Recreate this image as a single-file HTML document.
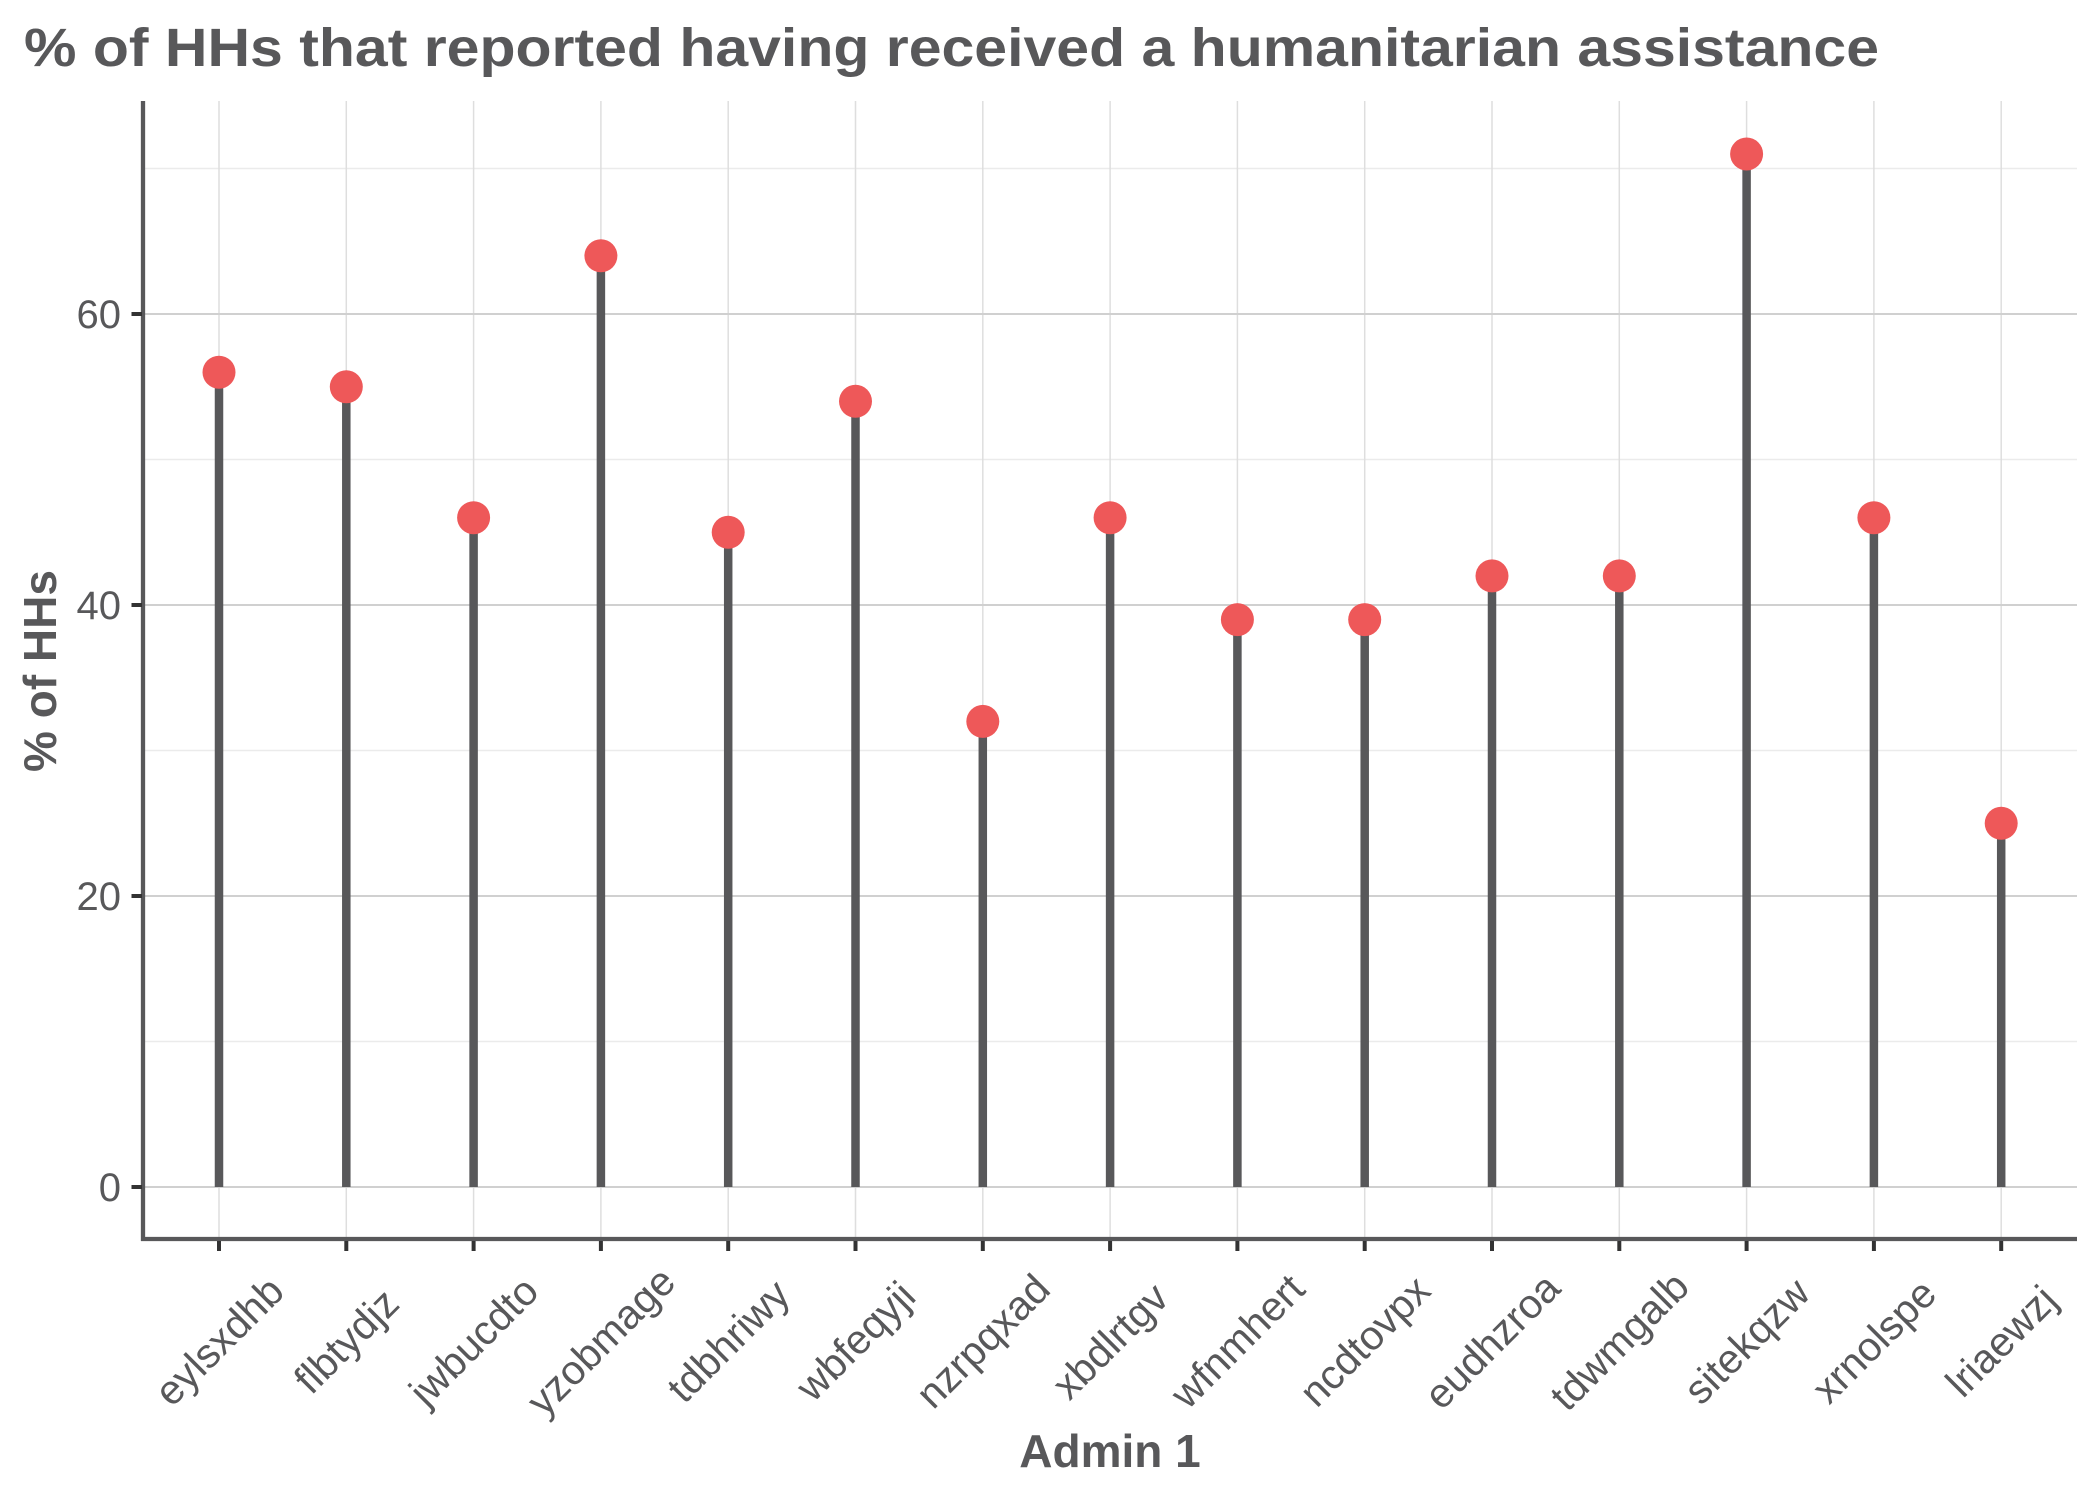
<!DOCTYPE html>
<html>
<head>
<meta charset="utf-8">
<style>
html,body{margin:0;padding:0;background:#fff;}
svg{display:block;}
text{font-family:"Liberation Sans",sans-serif;}
</style>
</head>
<body>
<svg width="2100" height="1500" viewBox="0 0 2100 1500" xmlns="http://www.w3.org/2000/svg">
<rect width="2100" height="1500" fill="#fff"/>
<!-- title -->
<text x="24" y="66" font-size="54" font-weight="bold" fill="#58585A" textLength="1855" lengthAdjust="spacingAndGlyphs">% of HHs that reported having received a humanitarian assistance</text>

<!-- minor gridlines -->
<g stroke="#ebebeb" stroke-width="1.5">
<line x1="143" x2="2077" y1="1041.5" y2="1041.5"/>
<line x1="143" x2="2077" y1="750.5" y2="750.5"/>
<line x1="143" x2="2077" y1="459.5" y2="459.5"/>
<line x1="143" x2="2077" y1="168.5" y2="168.5"/>
</g>
<!-- vertical gridlines -->
<g stroke="#dedede" stroke-width="1.5">
<line x1="219" x2="219" y1="101" y2="1239"/>
<line x1="346.3" x2="346.3" y1="101" y2="1239"/>
<line x1="473.6" x2="473.6" y1="101" y2="1239"/>
<line x1="600.9" x2="600.9" y1="101" y2="1239"/>
<line x1="728.2" x2="728.2" y1="101" y2="1239"/>
<line x1="855.5" x2="855.5" y1="101" y2="1239"/>
<line x1="982.8" x2="982.8" y1="101" y2="1239"/>
<line x1="1110.1" x2="1110.1" y1="101" y2="1239"/>
<line x1="1237.4" x2="1237.4" y1="101" y2="1239"/>
<line x1="1364.7" x2="1364.7" y1="101" y2="1239"/>
<line x1="1492" x2="1492" y1="101" y2="1239"/>
<line x1="1619.3" x2="1619.3" y1="101" y2="1239"/>
<line x1="1746.6" x2="1746.6" y1="101" y2="1239"/>
<line x1="1873.9" x2="1873.9" y1="101" y2="1239"/>
<line x1="2001.2" x2="2001.2" y1="101" y2="1239"/>
</g>
<!-- major gridlines -->
<g stroke="#d0d0d0" stroke-width="2">
<line x1="143" x2="2077" y1="1187" y2="1187"/>
<line x1="143" x2="2077" y1="896" y2="896"/>
<line x1="143" x2="2077" y1="605" y2="605"/>
<line x1="143" x2="2077" y1="314" y2="314"/>
</g>

<!-- stems -->
<g stroke="#58585A" stroke-width="8.5">
<line x1="219" x2="219" y1="1187" y2="372.2"/>
<line x1="346.3" x2="346.3" y1="1187" y2="386.8"/>
<line x1="473.6" x2="473.6" y1="1187" y2="517.7"/>
<line x1="600.9" x2="600.9" y1="1187" y2="255.8"/>
<line x1="728.2" x2="728.2" y1="1187" y2="532.3"/>
<line x1="855.5" x2="855.5" y1="1187" y2="401.3"/>
<line x1="982.8" x2="982.8" y1="1187" y2="721.4"/>
<line x1="1110.1" x2="1110.1" y1="1187" y2="517.7"/>
<line x1="1237.4" x2="1237.4" y1="1187" y2="619.6"/>
<line x1="1364.7" x2="1364.7" y1="1187" y2="619.6"/>
<line x1="1492" x2="1492" y1="1187" y2="575.9"/>
<line x1="1619.3" x2="1619.3" y1="1187" y2="575.9"/>
<line x1="1746.6" x2="1746.6" y1="1187" y2="154"/>
<line x1="1873.9" x2="1873.9" y1="1187" y2="517.7"/>
<line x1="2001.2" x2="2001.2" y1="1187" y2="823.3"/>
</g>
<!-- dots -->
<g fill="#EE5859">
<circle cx="219" cy="372.2" r="16.5"/>
<circle cx="346.3" cy="386.8" r="16.5"/>
<circle cx="473.6" cy="517.7" r="16.5"/>
<circle cx="600.9" cy="255.8" r="16.5"/>
<circle cx="728.2" cy="532.3" r="16.5"/>
<circle cx="855.5" cy="401.3" r="16.5"/>
<circle cx="982.8" cy="721.4" r="16.5"/>
<circle cx="1110.1" cy="517.7" r="16.5"/>
<circle cx="1237.4" cy="619.6" r="16.5"/>
<circle cx="1364.7" cy="619.6" r="16.5"/>
<circle cx="1492" cy="575.9" r="16.5"/>
<circle cx="1619.3" cy="575.9" r="16.5"/>
<circle cx="1746.6" cy="154" r="16.5"/>
<circle cx="1873.9" cy="517.7" r="16.5"/>
<circle cx="2001.2" cy="823.3" r="16.5"/>
</g>

<!-- axes -->
<g stroke="#58585A" stroke-width="4.3" fill="none">
<line x1="143" x2="143" y1="101" y2="1241"/>
<line x1="141" x2="2077" y1="1239" y2="1239"/>
</g>
<!-- y ticks -->
<g stroke="#333" stroke-width="4">
<line x1="131.5" x2="142" y1="1187" y2="1187"/>
<line x1="131.5" x2="142" y1="896" y2="896"/>
<line x1="131.5" x2="142" y1="605" y2="605"/>
<line x1="131.5" x2="142" y1="314" y2="314"/>
</g>
<!-- x ticks -->
<g stroke="#333" stroke-width="4">
<line x1="219" x2="219" y1="1241" y2="1251"/>
<line x1="346.3" x2="346.3" y1="1241" y2="1251"/>
<line x1="473.6" x2="473.6" y1="1241" y2="1251"/>
<line x1="600.9" x2="600.9" y1="1241" y2="1251"/>
<line x1="728.2" x2="728.2" y1="1241" y2="1251"/>
<line x1="855.5" x2="855.5" y1="1241" y2="1251"/>
<line x1="982.8" x2="982.8" y1="1241" y2="1251"/>
<line x1="1110.1" x2="1110.1" y1="1241" y2="1251"/>
<line x1="1237.4" x2="1237.4" y1="1241" y2="1251"/>
<line x1="1364.7" x2="1364.7" y1="1241" y2="1251"/>
<line x1="1492" x2="1492" y1="1241" y2="1251"/>
<line x1="1619.3" x2="1619.3" y1="1241" y2="1251"/>
<line x1="1746.6" x2="1746.6" y1="1241" y2="1251"/>
<line x1="1873.9" x2="1873.9" y1="1241" y2="1251"/>
<line x1="2001.2" x2="2001.2" y1="1241" y2="1251"/>
</g>

<!-- y tick labels -->
<g font-size="40" fill="#58585A" text-anchor="end">
<text x="121" y="1201">0</text>
<text x="121" y="910">20</text>
<text x="121" y="619">40</text>
<text x="121" y="328">60</text>
</g>

<!-- x tick labels -->
<g font-size="41" fill="#58585A" text-anchor="middle">
<text transform="translate(229,1351) rotate(-45)">eylsxdhb</text>
<text transform="translate(356.3,1351) rotate(-45)">flbtydjz</text>
<text transform="translate(483.6,1351) rotate(-45)">jwbucdto</text>
<text transform="translate(610.9,1351) rotate(-45)">yzobmage</text>
<text transform="translate(738.2,1351) rotate(-45)">tdbhriwy</text>
<text transform="translate(865.5,1351) rotate(-45)">wbfeqyji</text>
<text transform="translate(992.8,1351) rotate(-45)">nzrpqxad</text>
<text transform="translate(1120.1,1351) rotate(-45)">xbdlrtgv</text>
<text transform="translate(1247.4,1351) rotate(-45)">wfnmhert</text>
<text transform="translate(1374.7,1351) rotate(-45)">ncdtovpx</text>
<text transform="translate(1502,1351) rotate(-45)">eudhzroa</text>
<text transform="translate(1629.3,1351) rotate(-45)">tdwmgalb</text>
<text transform="translate(1756.6,1351) rotate(-45)">sitekqzw</text>
<text transform="translate(1883.9,1351) rotate(-45)">xrnolspe</text>
<text transform="translate(2011.2,1351) rotate(-45)">lriaewzj</text>
</g>

<!-- axis titles -->
<text x="1110" y="1467" font-size="46" font-weight="bold" fill="#58585A" text-anchor="middle">Admin 1</text>
<text transform="translate(56,671) rotate(-90)" font-size="46" font-weight="bold" fill="#58585A" text-anchor="middle">% of HHs</text>
</svg>
</body>
</html>
